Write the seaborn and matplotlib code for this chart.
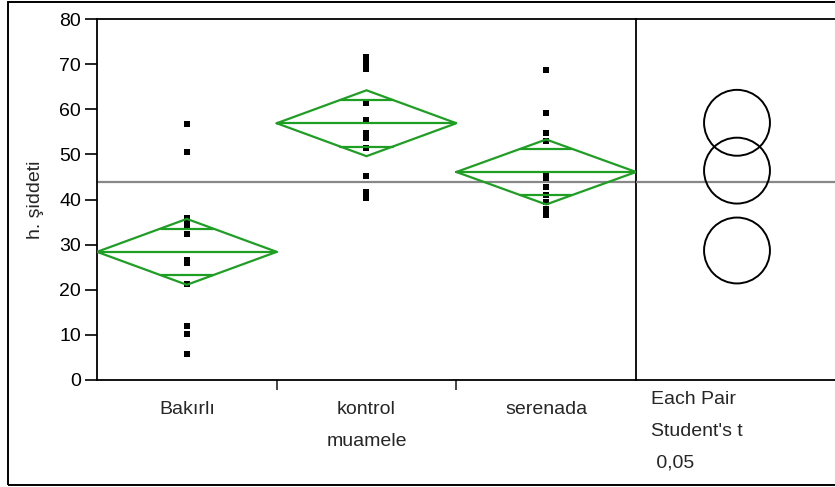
import numpy as np
import pandas as pd
import seaborn as sns
import matplotlib
matplotlib.use("Agg")
import matplotlib.pyplot as plt
from matplotlib.patches import Rectangle, Circle

# ---------------- data ----------------
groups = ["Bakırlı", "kontrol", "serenada"]
group_labels = ["Bakırlı", "kontrol\nmuamele", "serenada"]
bakirli = [56.7, 50.6, 35.8, 35.1, 34.1, 32.4, 26.7, 25.9, 21.3, 12.0, 10.2, 5.8]
kontrol = [71.5, 70.5, 69.6, 68.9, 61.3, 57.6, 54.7, 53.6, 51.5, 45.3, 41.7, 40.3]
serenada = [68.8, 59.1, 54.8, 53.0, 45.6, 44.8, 42.7, 41.0, 39.5, 37.8, 36.9, 36.6]
means = [28.4, 56.9, 46.1]
ci_half = [7.3, 7.3, 7.2]
circle_centers = [28.7, 57.0, 46.4]
circle_radius = [7.3, 7.3, 7.3]
grand_mean = 43.9
y_ticks = [0, 10, 20, 30, 40, 50, 60, 70, 80]
panel_text = ["Each Pair", "Student's t", " 0,05"]

df = pd.DataFrame({
    "grup": np.repeat(groups, [len(bakirli), len(kontrol), len(serenada)]),
    "h. şiddeti": bakirli + kontrol + serenada,
})

# ---------------- style ----------------
sns.set_theme(style="white")
plt.rcParams["font.family"] = ["Liberation Sans", "DejaVu Sans"]
FS = 14
GREEN = "#1f9e24"

W, H = 835, 487
fig = plt.figure(figsize=(W / 100, H / 100), dpi=100)


def rect(l, t, r, b):
    return [l / W, 1 - b / H, (r - l) / W, (b - t) / H]


ax = fig.add_axes(rect(97, 19, 636, 380))
ax2 = fig.add_axes(rect(636, 19, 860, 380))

# outer frame
fig.patches.append(Rectangle((8 / W, 1 - 485 / H), (900 - 8) / W, (485 - 2) / H,
                             transform=fig.transFigure, fill=False,
                             ec="black", lw=1.4, zorder=0))

# points
sns.stripplot(data=df, x="grup", y="h. şiddeti", order=groups, jitter=False,
              marker="s", color="black", size=3.8, linewidth=0, ax=ax, zorder=3)

# means diamonds
k = 1 / np.sqrt(2)
for i, (m, hw) in enumerate(zip(means, ci_half)):
    ax.plot([i - 0.5, i, i + 0.5, i, i - 0.5], [m, m + hw, m, m - hw, m],
            color=GREEN, lw=1.6, zorder=4, solid_joinstyle="miter")
    ax.plot([i - 0.5, i + 0.5], [m, m], color=GREEN, lw=1.6, zorder=4)
    dx = 0.5 * (1 - k)
    for s in (1, -1):
        ax.plot([i - dx, i + dx], [m + s * hw * k] * 2, color=GREEN, lw=1.6, zorder=4)

ax.axhline(grand_mean, color="#888888", lw=1.6, zorder=2)
ax2.axhline(grand_mean, color="#888888", lw=1.6, zorder=2)

# axes formatting
ax.set_xlim(-0.5, 2.5)
ax.set_ylim(0, 80)
ax.set_yticks(y_ticks)
ax.set_yticklabels([str(t) for t in y_ticks], fontsize=FS)
ax.set_xticks([0.5, 1.5])
ax.set_xticklabels([])
ax.set_xlabel("")
ax.set_ylabel("h. şiddeti", fontsize=FS)
ax.yaxis.set_label_coords(-53 / 539, 0.5)
ax.tick_params(axis="y", direction="out", length=8.5, width=1.2, pad=3, left=True, colors="black")
ax.tick_params(axis="x", direction="out", length=7, width=1.2, bottom=True)
for sp in ax.spines.values():
    sp.set_visible(True)
    sp.set_color("black")
    sp.set_linewidth(1.3)

for i, lab in enumerate(group_labels):
    lines = lab.split("\n")
    for j, t in enumerate(lines):
        ax.text(i, -30 / 4.5125 - j * 32 / 4.5125, t, ha="center", va="center",
                fontsize=FS, clip_on=False)

# comparison circles panel
ax2.set_ylim(0, 80)
px_per_unit = 361 / 80
ax2.set_xlim(0, 224 / px_per_unit)
ax2.set_xticks([])
ax2.set_yticks([])
ax2.set_facecolor("none")
cx = (737 - 636) / px_per_unit
for c, r in zip(circle_centers, circle_radius):
    ax2.add_patch(Circle((cx, c), r, fill=False, ec="black", lw=1.4, zorder=3))
ax2.spines["left"].set_visible(False)
ax2.spines["right"].set_visible(False)
for s in ("top", "bottom"):
    ax2.spines[s].set_visible(True)
    ax2.spines[s].set_color("black")
    ax2.spines[s].set_linewidth(1.3)

for j, t in enumerate(panel_text):
    fig.text(651 / W, 1 - (400 + j * 31.5) / H, t, ha="left", va="center", fontsize=FS)

fig.savefig("out.png", dpi=100, facecolor="white")
